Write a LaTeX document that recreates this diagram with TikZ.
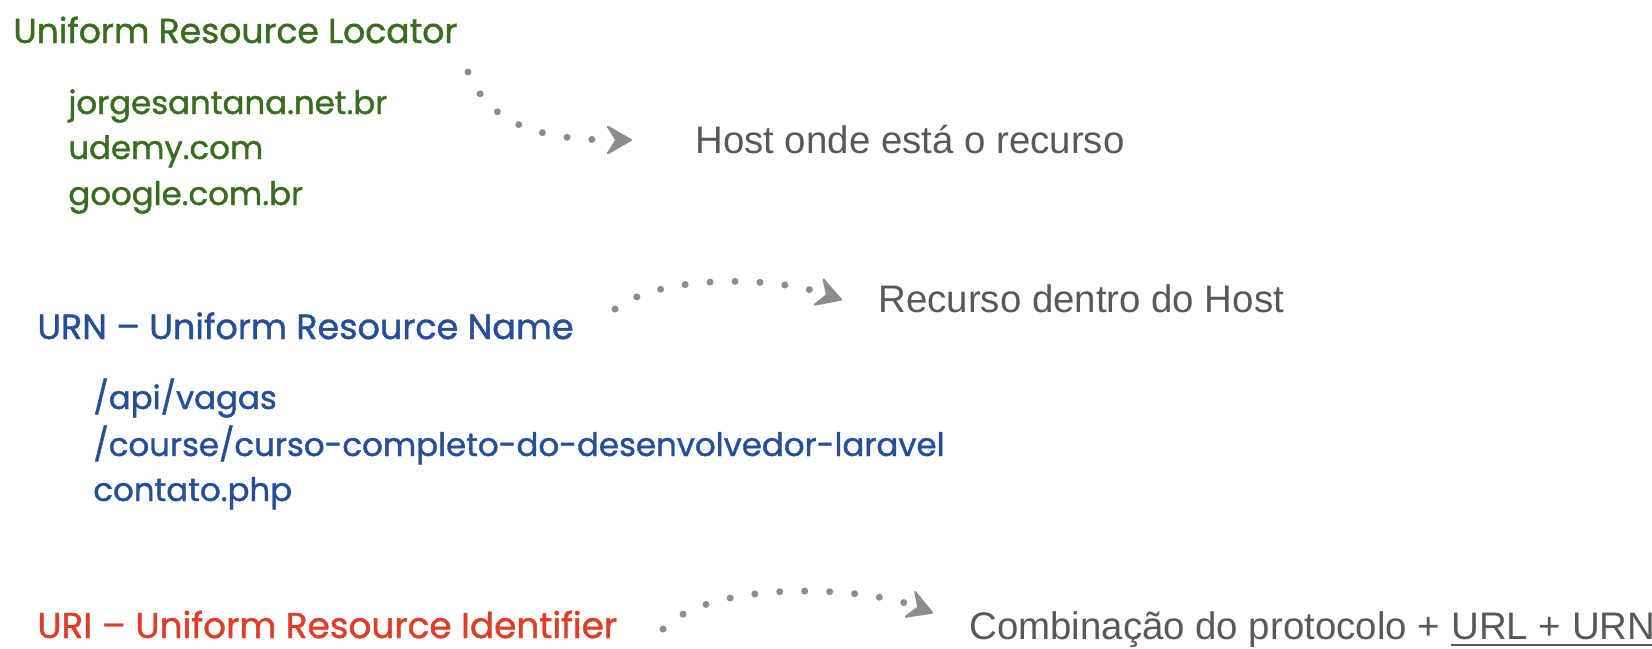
\documentclass[tikz,border=0pt]{standalone}
\usepackage{fontspec}
\setmainfont{Poppins}[FakeBold=1.2]
\newfontfamily\notefont{Liberation Sans}
\usetikzlibrary{arrows.meta,positioning}
\definecolor{urlgreen}{RGB}{58,108,32}
\definecolor{urnblue}{RGB}{38,78,150}
\definecolor{urired}{RGB}{222,62,40}
\definecolor{notegray}{RGB}{88,88,88}
\definecolor{dotgray}{RGB}{140,140,140}

\begin{document}
\begin{tikzpicture}[x=0.5pt,y=-0.5pt,
  title/.style = {anchor=base west, inner sep=0pt,
    font=\fontsize{17.5}{21}\selectfont},
  item/.style = {anchor=base west, inner sep=0pt,
    font=\fontsize{16.2}{20}\selectfont},
  note/.style = {anchor=base west, inner sep=0pt, text=notegray,
    font=\notefont\fontsize{19.2}{23}\selectfont},
  dotline/.style = {draw=dotgray, line width=3.5pt, line cap=round,
    dash pattern=on 0pt off 12.5pt,
    -{Stealth[length=14pt, width=16pt, inset=5pt, round, line width=1pt]}},
  underline/.style = {draw=notegray, line width=1pt}
  ]
  \useasboundingbox (0,0) rectangle (1652,648);

  \node[title, text=urlgreen, font=\fontsize{17.3}{21}\selectfont] (url) at (13,43) {Uniform Resource Locator};
  \node[item, text=urlgreen] (host1) at (68,114) {jorgesantana.net.br};
  \node[item, text=urlgreen] (host2) at (68,159) {udemy.com};
  \node[item, text=urlgreen] (host3) at (68,205) {google.com.br};
  \node[note] (hostnote) at (695,153) {Host onde está o recurso};

  \node[title, text=urnblue] (urn) at (37,339) {URN – Uniform Resource Name};
  \node[item, text=urnblue] (res1) at (93,409) {/api/vagas};
  \node[item, text=urnblue] (res2) at (93,456) {/course/curso-completo-do-desenvolvedor-laravel};
  \node[item, text=urnblue] (res3) at (93,501) {contato.php};
  \node[note] (resnote) at (878,312) {Recurso dentro do Host};

  \node[title, text=urired, font=\fontsize{17.9}{21}\selectfont] (uri) at (37,638) {URI – Uniform Resource Identifier};
  \node[note] (urinote) at (969,639) {Combinação do protocolo +};
  \node[note, anchor=base west] (urlurn) at ([xshift=5.3pt]urinote.base east) {URL + URN};
  \draw[underline] ([yshift=-3pt]urlurn.base west) -- ([yshift=-3pt]urlurn.base east);

  \coordinate (urlout) at (468,72);
  \coordinate (hostin) at (632,140);
  \coordinate (urnout) at (615,309);
  \coordinate (resin) at (842,300);
  \coordinate (uriout) at (663,629);
  \coordinate (uriin) at (933,613);

  \draw[dotline] (urlout) .. controls (490,125) and (540,140) .. (hostin);
  \draw[dotline] (urnout) .. controls (660,275) and (770,275) .. (resin);
  \draw[dotline] (uriout) .. controls (710,580) and (860,585) .. (uriin);
\end{tikzpicture}
\end{document}
